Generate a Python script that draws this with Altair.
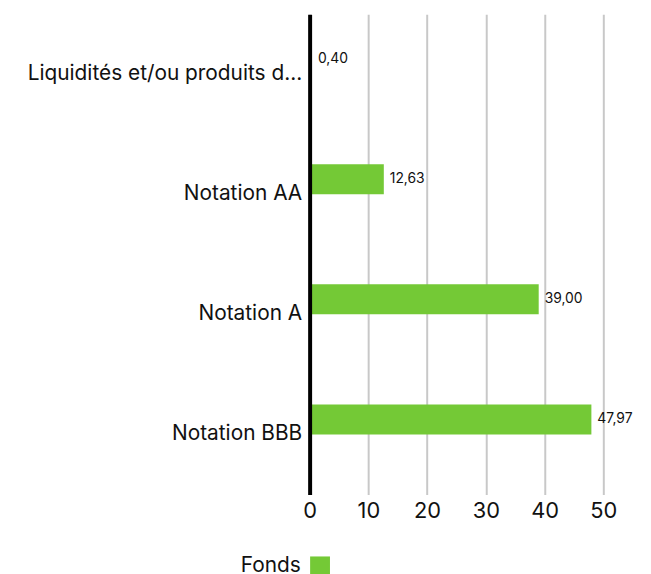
import altair as alt
import pandas as pd

categories = ["Liquidités et/ou produits dérivés", "Notation AA", "Notation A", "Notation BBB"]
values = [0.40, 12.63, 39.00, 47.97]
series = "Fonds"

df = pd.DataFrame({
    "cat": categories,
    "val": values,
    "serie": [series] * len(categories),
    "lbl": [f"{v:.2f}".replace(".", ",") for v in values],
})

FONT = "Inter"
GREEN = "#74C936"

y_enc = alt.Y("cat:N", sort=categories, title=None,
              scale=alt.Scale(paddingInner=0.5, paddingOuter=0.25),
              axis=alt.Axis(domainColor="#000000", domainWidth=4, ticks=False,
                            labelFontSize=21, labelColor="#111111", labelPadding=8,
                            labelLimit=286, labelFont=FONT, zindex=1))
yoff = alt.YOffset("serie:N", scale=alt.Scale(domain=["Fonds", "_"]))

base = alt.Chart(df)

bars = base.mark_bar().encode(
    x=alt.X("val:Q", title=None, scale=alt.Scale(domain=[0, 50]),
            axis=alt.Axis(values=[0, 10, 20, 30, 40, 50], domain=False, ticks=False,
                          labelFlush=False,
                          gridColor="#c8c8c8", gridWidth=2, labelFontSize=22,
                          labelColor="#111111", labelPadding=6, labelFont=FONT)),
    y=y_enc,
    yOffset=yoff,
    color=alt.Color("serie:N", scale=alt.Scale(domain=["Fonds"], range=[GREEN]),
                    legend=alt.Legend(title=None, orient="none", legendX=0, legendY=546,
                                      symbolType="square", symbolSize=400,
                                      symbolStrokeWidth=0, labelFontSize=21,
                                      labelFont=FONT, labelColor="#111111",
                                      labelAlign="right", labelOffset={"expr": "-30"},
                                      direction="horizontal")),
)

texts = base.mark_text(align="left", baseline="middle", dx=6, fontSize=14,
                       font=FONT, color="#111111").encode(
    x="val:Q",
    y=alt.Y("cat:N", sort=categories),
    yOffset=yoff,
    text="lbl:N",
)

chart = alt.layer(bars, texts).properties(
    width=296, height=484,
    autosize=alt.AutoSizeParams(type="none"),
    padding={"left": 304, "top": 4, "right": 40, "bottom": 90},
).configure_view(stroke=None).configure_axis(grid=True).configure_axisY(grid=False)

chart.save("out.html", embed_options={"renderer": "svg", "actions": False})
